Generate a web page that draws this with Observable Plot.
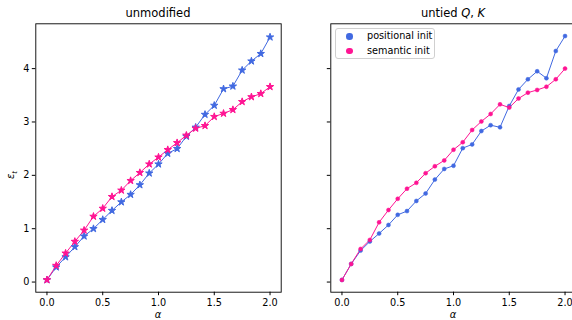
<!DOCTYPE html>
<html>
<head>
<meta charset="utf-8">
<script src="https://cdn.jsdelivr.net/npm/d3@7"></script>
<script src="https://cdn.jsdelivr.net/npm/@observablehq/plot@0.6"></script>
<style>
  body { margin: 0; background: #fff; font-family: "DejaVu Sans", sans-serif; }
  #wrap { position: relative; width: 572px; height: 320px; overflow: hidden; background: #fff; }
  .panel { position: absolute; top: 0; }
  .title { position: absolute; font-size: 11.5px; color: #000; transform: translate(-50%, -50%); white-space: nowrap; }
  .xlab { position: absolute; font-size: 10px; font-style: italic; color: #000; transform: translate(-50%, -50%); }
  .ylab { position: absolute; font-size: 10px; color: #000; transform: translate(-50%, -50%) rotate(-90deg); white-space: nowrap; }
  .legend { position: absolute; left: 335px; top: 27.5px; width: 100px; height: 31.5px; border: 1px solid #d0d0d0; border-radius: 3px; background: rgba(255,255,255,0.8); box-sizing: border-box; font-size: 9.7px; }
  .legend .sw { position: absolute; width: 6.5px; height: 6.5px; border-radius: 50%; left: 10px; }
  .legend .lt { position: absolute; left: 31px; white-space: nowrap; line-height: 12px; }
</style>
</head>
<body>
<div id="wrap"></div>
<script>
// ---- data ----
const alpha = [0, 0.083, 0.167, 0.25, 0.333, 0.417, 0.5, 0.583, 0.667, 0.75, 0.833, 0.917, 1,
               1.083, 1.167, 1.25, 1.333, 1.417, 1.5, 1.583, 1.667, 1.75, 1.833, 1.917, 2];
const seriesNames = ["positional init", "semantic init"];
const seriesColors = ["#4169E1", "#FF1493"];

const unmodPositional = [0.04, 0.28, 0.47, 0.66, 0.86, 1.00, 1.17, 1.34, 1.50, 1.64, 1.82, 2.04, 2.21,
                         2.41, 2.50, 2.73, 2.90, 3.14, 3.31, 3.62, 3.67, 3.97, 4.14, 4.28, 4.59];
const unmodSemantic   = [0.04, 0.31, 0.54, 0.76, 0.97, 1.23, 1.38, 1.60, 1.72, 1.90, 2.05, 2.21, 2.34,
                         2.48, 2.61, 2.75, 2.88, 2.93, 3.10, 3.16, 3.23, 3.38, 3.47, 3.53, 3.66];
const untiedPositional = [0.04, 0.34, 0.59, 0.76, 0.91, 1.07, 1.26, 1.33, 1.52, 1.66, 1.92, 2.12, 2.18,
                          2.51, 2.58, 2.83, 2.94, 2.90, 3.30, 3.61, 3.80, 3.95, 3.82, 4.33, 4.61];
const untiedSemantic   = [0.04, 0.34, 0.62, 0.79, 1.12, 1.35, 1.56, 1.75, 1.86, 2.04, 2.17, 2.28, 2.48,
                          2.62, 2.85, 3.01, 3.15, 3.33, 3.27, 3.44, 3.55, 3.60, 3.66, 3.80, 4.00];

const xTicks = [0, 0.5, 1, 1.5, 2];
const yTicks = [0, 1, 2, 3, 4];
const titles = ["unmodified", "untied"];

// ---- build ----
function tidy(pos, sem) {
  const out = [];
  alpha.forEach((a, i) => out.push({alpha: a, eps: pos[i], series: seriesNames[0]}));
  alpha.forEach((a, i) => out.push({alpha: a, eps: sem[i], series: seriesNames[1]}));
  return out;
}

function panel(data, symbol, r, edge, showYLabels) {
  return Plot.plot({
    width: 290, height: 320,
    marginLeft: 35.3, marginRight: 9.3, marginTop: 23.3, marginBottom: 28.3,
    x: {domain: [-0.1, 2.1]},
    y: {domain: [-0.19, 4.84]},
    color: {domain: seriesNames, range: seriesColors},
    style: {fontFamily: "DejaVu Sans", fontSize: "9.5px", color: "#000", background: "transparent", overflow: "visible"},
    marks: [
      Plot.axisX({ticks: xTicks, tickFormat: d3.format(".1f"), tickSize: 3.5, tickPadding: 3, label: null, stroke: "#000", strokeOpacity: 1, fontSize: 9.7}),
      Plot.axisY({ticks: yTicks, tickFormat: showYLabels ? (d => String(d)) : (() => ""), tickSize: 3.5, tickPadding: 3, label: null, stroke: "#000", strokeOpacity: 1, fontSize: 9.7}),
      Plot.line(data, {x: "alpha", y: "eps", z: "series", stroke: "series", strokeWidth: 1}),
      Plot.dot(data, {x: "alpha", y: "eps", fill: "series", stroke: "series", strokeWidth: edge, symbol: symbol, r: r}),
      Plot.frame({stroke: "#000", strokeWidth: 0.9})
    ]
  });
}

const wrap = document.getElementById("wrap");

const left = panel(tidy(unmodPositional, unmodSemantic), "star", 2.3, 1, true);
left.classList.add("panel");
left.style.left = "0px";
wrap.appendChild(left);

const right = panel(tidy(untiedPositional, untiedSemantic), "circle", 2.0, 0.5, false);
right.classList.add("panel");
right.style.left = "295px";
wrap.appendChild(right);

// titles
const t1 = document.createElement("div");
t1.className = "title"; t1.style.left = "158px"; t1.style.top = "12.5px";
t1.textContent = titles[0];
wrap.appendChild(t1);

const t2 = document.createElement("div");
t2.className = "title"; t2.style.left = "453px"; t2.style.top = "12.5px";
t2.innerHTML = titles[1] + " <i>Q</i>, <i>K</i>";
wrap.appendChild(t2);

// axis labels
[158, 453].forEach(cx => {
  const xl = document.createElement("div");
  xl.className = "xlab"; xl.style.left = cx + "px"; xl.style.top = "314px";
  xl.textContent = "α";
  wrap.appendChild(xl);
});
const yl = document.createElement("div");
yl.className = "ylab"; yl.style.left = "12px"; yl.style.top = "175px";
yl.innerHTML = "<i>ε</i><sub style='font-size:7px;font-style:italic'>t</sub>";
wrap.appendChild(yl);

// legend
const lg = document.createElement("div");
lg.className = "legend";
seriesNames.forEach((name, i) => {
  const sw = document.createElement("div");
  sw.className = "sw";
  sw.style.background = seriesColors[i];
  sw.style.top = (4.5 + i * 14.5) + "px";
  lg.appendChild(sw);
  const lt = document.createElement("div");
  lt.className = "lt";
  lt.style.top = (1.5 + i * 14.5) + "px";
  lt.textContent = name;
  lg.appendChild(lt);
});
wrap.appendChild(lg);
</script>
</body>
</html>
